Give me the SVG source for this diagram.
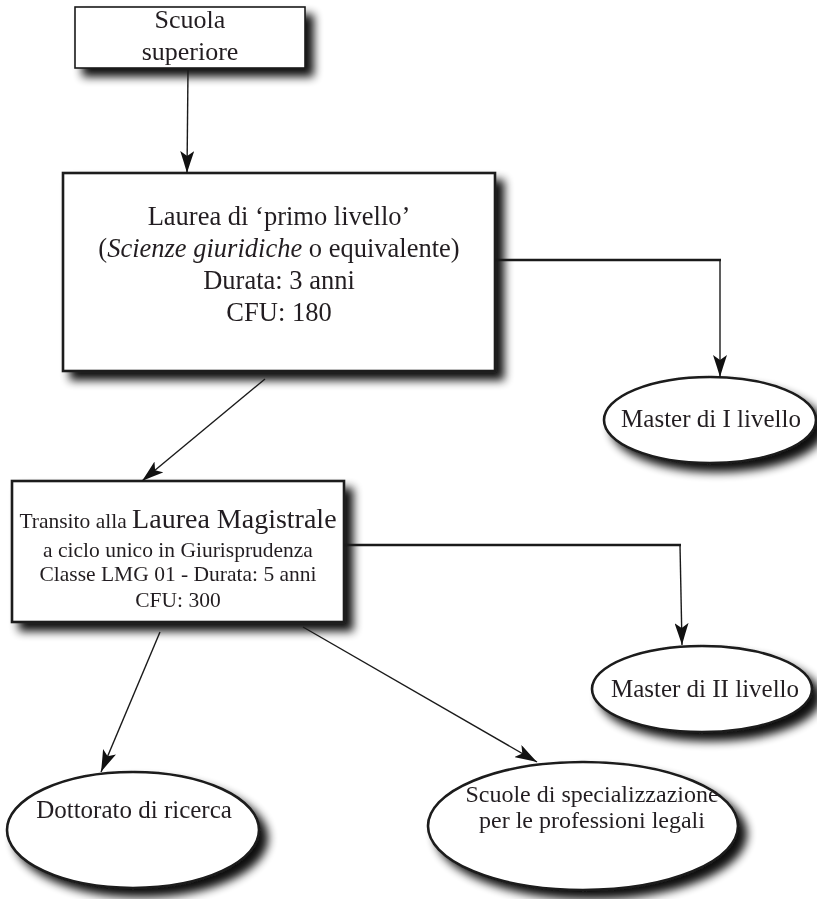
<svg xmlns="http://www.w3.org/2000/svg" width="817" height="899" viewBox="0 0 817 899">
<defs>
<filter id="sh" x="-20%" y="-20%" width="150%" height="160%">
<feGaussianBlur in="SourceAlpha" stdDeviation="5"/>
<feOffset dx="8" dy="8" result="b"/>
<feComponentTransfer in="b" result="c"><feFuncA type="linear" slope="0.95"/></feComponentTransfer>
<feMerge><feMergeNode in="c"/><feMergeNode in="SourceGraphic"/></feMerge>
</filter>
<marker id="ah" viewBox="0 0 22 14" refX="22" refY="7" markerWidth="22" markerHeight="14" markerUnits="userSpaceOnUse" orient="auto">
<path d="M0,0 Q12,4 22,7 Q12,10 0,14 L5,7 Z" fill="#111"/>
</marker>
</defs>
<style>
.box{fill:#fff;stroke:#1a1a1a;stroke-width:2.6}
.thin{stroke-width:1.6}
.t{font-family:"Liberation Serif","Times New Roman",serif;fill:#231f20;text-anchor:middle}
.c{fill:none;stroke:#1a1a1a;stroke-width:1.4}
.ct{fill:none;stroke:#1a1a1a;stroke-width:2.6}
</style>
<rect width="817" height="899" fill="#fff"/>
<g id="n1" filter="url(#sh)">
<rect class="box thin" x="75" y="7" width="230" height="61"/>
<text class="t" x="190" y="28" font-size="26">Scuola</text>
<text class="t" x="190" y="60" font-size="26">superiore</text>
</g>
<g id="n2" filter="url(#sh)">
<rect class="box" x="63" y="173" width="432" height="198"/>
<text class="t" x="279" y="225" font-size="26.5">Laurea di ‘primo livello’</text>
<text class="t" x="279" y="257" font-size="26.5">(<tspan font-style="italic">Scienze giuridiche</tspan> o equivalente)</text>
<text class="t" x="279" y="289" font-size="26.5">Durata: 3 anni</text>
<text class="t" x="279" y="321" font-size="26.5">CFU: 180</text>
</g>
<g id="n3" filter="url(#sh)">
<ellipse class="box" cx="710" cy="420" rx="106" ry="43"/>
<text class="t" x="711" y="427" font-size="25">Master di I livello</text>
</g>
<g id="n4" filter="url(#sh)">
<rect class="box" x="12" y="481" width="332" height="141"/>
<text class="t" x="178" y="528" font-size="21.5">Transito alla <tspan font-size="28">Laurea Magistrale</tspan></text>
<text class="t" x="178" y="557" font-size="21.5">a ciclo unico in Giurisprudenza</text>
<text class="t" x="178" y="581" font-size="21.5">Classe LMG 01 - Durata: 5 anni</text>
<text class="t" x="178" y="607" font-size="21.5">CFU: 300</text>
</g>
<g id="n5" filter="url(#sh)">
<ellipse class="box" cx="702" cy="689" rx="110" ry="43"/>
<text class="t" x="705" y="697" font-size="25">Master di II livello</text>
</g>
<g id="n6" filter="url(#sh)">
<ellipse class="box" cx="133" cy="830" rx="126" ry="58"/>
<text class="t" x="134" y="818" font-size="25">Dottorato di ricerca</text>
</g>
<g id="n7" filter="url(#sh)">
<ellipse class="box" cx="583" cy="826" rx="155" ry="64"/>
<text class="t" x="592" y="802" font-size="24">Scuole di specializzazione</text>
<text class="t" x="592" y="828" font-size="24">per le professioni legali</text>
</g>
<g id="connectors">
<line class="c" x1="188" y1="70" x2="187" y2="173" marker-end="url(#ah)"/>
<polyline class="ct" points="495,260 721,260"/>
<line class="c" x1="720" y1="260" x2="720" y2="377" marker-end="url(#ah)"/>
<line class="c" x1="265" y1="379" x2="142" y2="481" marker-end="url(#ah)"/>
<polyline class="ct" points="344,545 681,545"/>
<line class="c" x1="680" y1="545" x2="682" y2="645" marker-end="url(#ah)"/>
<line class="c" x1="160" y1="632" x2="101" y2="772" marker-end="url(#ah)"/>
<line class="c" x1="303" y1="627" x2="537" y2="762" marker-end="url(#ah)"/>
</g>
</svg>
